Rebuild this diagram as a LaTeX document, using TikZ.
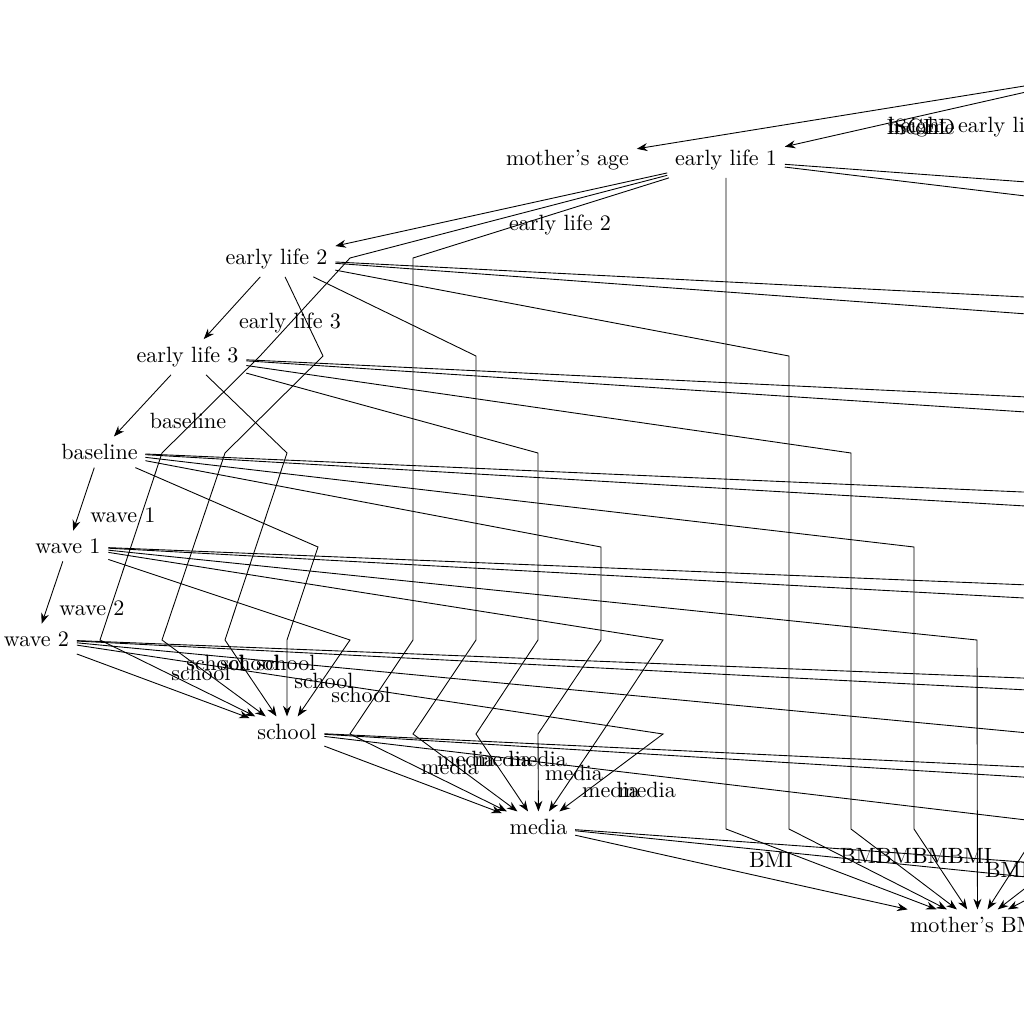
\documentclass[tikz,border=0pt]{standalone}
\usetikzlibrary{arrows.meta}

\begin{document}
\begin{tikzpicture}[
  x=0.4525pt, y=-0.4525pt,
  var/.style={inner sep=3.33pt},
  lab/.style={inner sep=0pt},
  link/.style={-{Stealth}},
]
  \useasboundingbox (0,0) rectangle (1024,1024);
  \clip (0,0) rectangle (1024,1024);

  %% variables
  \node[var](mage)   at (567.5,160) {mother's age};
  \node[var](el1)    at (726,160)   {early life 1};
  \node[var](el2)    at (276.5,259) {early life 2};
  \node[var](el3)    at (187.5,357) {early life 3};
  \node[var](base)   at (99.5,452)  {baseline};
  \node[var](w1)     at (68,546)    {wave 1};
  \node[var](w2)     at (36.5,639)  {wave 2};
  \node[var](school) at (287,732)   {school};
  \node[var](media)  at (538.5,827) {media};
  \node[var](mbmi)   at (977.5,925) {mother's BMI};

  %% ends beyond the right margin
  \coordinate (src)   at (1123,70);
  \coordinate (el1ra) at (1300,202);
  \coordinate (el1rb) at (1300,229);
  \coordinate (el2ra) at (1300,311);
  \coordinate (el2rb) at (1300,334);
  \coordinate (el3ra) at (1300,410);
  \coordinate (el3rb) at (1300,430);
  \coordinate (basra) at (1300,504);
  \coordinate (basrb) at (1300,522);
  \coordinate (w1ra)  at (1300,596);
  \coordinate (w1rb)  at (1300,613);
  \coordinate (w2ra)  at (1300,689);
  \coordinate (w2rb)  at (1300,704);
  \coordinate (schra) at (1300,780);
  \coordinate (schrb) at (1300,794);
  \coordinate (medra) at (1300,882);
  \coordinate (medrb) at (1300,905);
  \coordinate (offa)  at (1164,700);

  %% top
  \draw[link] (src) -- (mage);
  \draw[link] (src) -- (el1);

  %% early life 1
  \draw[link] (el1) -- (el2);
  \draw[link] (el1) -- (350,258) -- (260,356) -- (162,453) -- (100,640) -- (school);
  \draw[link] (el1) -- (413,258) -- (413,640) -- (350,734) -- (media);
  \draw[link] (el1) -- (726,829) -- (mbmi);
  \draw[link] (el1) -- (el1ra);
  \draw[link] (el1) -- (el1rb);

  %% early life 2
  \draw[link] (el2) -- (el3);
  \draw[link] (el2) -- (323,356) -- (225,453) -- (162,640) -- (school);
  \draw[link] (el2) -- (476,356) -- (476,640) -- (413,734) -- (media);
  \draw[link] (el2) -- (789,356) -- (789,829) -- (mbmi);
  \draw[link] (el2) -- (el2ra);
  \draw[link] (el2) -- (el2rb);

  %% early life 3
  \draw[link] (el3) -- (base);
  \draw[link] (el3) -- (287,453) -- (225,640) -- (school);
  \draw[link] (el3) -- (538,453) -- (538,640) -- (476,734) -- (media);
  \draw[link] (el3) -- (851,453) -- (851,829) -- (mbmi);
  \draw[link] (el3) -- (el3ra);
  \draw[link] (el3) -- (el3rb);

  %% baseline
  \draw[link] (base) -- (w1);
  \draw[link] (base) -- (318,547) -- (287,640) -- (school);
  \draw[link] (base) -- (601,547) -- (601,640) -- (538,734) -- (media);
  \draw[link] (base) -- (914,547) -- (914,829) -- (mbmi);
  \draw[link] (base) -- (basra);
  \draw[link] (base) -- (basrb);

  %% wave 1
  \draw[link] (w1) -- (w2);
  \draw[link] (w1) -- (350,640) -- (school);
  \draw[link] (w1) -- (663,640) -- (601,734) -- (media);
  \draw[link] (w1) -- (977,640) -- (mbmi);
  \draw[link] (w1) -- (w1ra);
  \draw[link] (w1) -- (w1rb);

  %% wave 2
  \draw[link] (w2) -- (school);
  \draw[link] (w2) -- (663,734) -- (media);
  \draw[link] (w2) -- (1039,734) -- (1039,829) -- (mbmi);
  \draw[link] (w2) -- (w2ra);
  \draw[link] (w2) -- (w2rb);

  %% school, media
  \draw[link] (school) -- (media);
  \draw[link] (school) -- (1102,829) -- (mbmi);
  \draw[link] (school) -- (schra);
  \draw[link] (school) -- (schrb);
  \draw[link] (media) -- (mbmi);
  \draw[link] (media) -- (medra);
  \draw[link] (media) -- (medrb);
  \draw[link] (offa) -- (1164,829) -- (mbmi);

  %% edge labels
  \node[lab](lisc) at (921,127)  {ISCED};
  \node[lab](lhgt) at (918,127)  {height};
  \node[lab](linc) at (921,127)  {income};
  \node[lab](lel1) at (1009,127) {early life 1};
  \node[lab](lel2) at (560,225)  {early life 2};
  \node[lab](lel3) at (290,323)  {early life 3};
  \node[lab](lbas) at (188,421)  {baseline};
  \node[lab](lw1)  at (123,515)  {wave 1};
  \node[lab](lw2)  at (92,608)   {wave 2};

  \node[lab](lsa) at (201,673) {school};
  \node[lab](lsb) at (216,663) {school};
  \node[lab](lsc) at (250,663) {school};
  \node[lab](lsd) at (286,663) {school};
  \node[lab](lse) at (324,681) {school};
  \node[lab](lsf) at (361,695) {school};

  \node[lab](lma) at (450,767) {media};
  \node[lab](lmb) at (466,759) {media};
  \node[lab](lmc) at (503,759) {media};
  \node[lab](lmd) at (538,759) {media};
  \node[lab](lme) at (574,773) {media};
  \node[lab](lmf) at (611,790) {media};
  \node[lab](lmg) at (647,790) {media};

  \node[lab](lba) at (771,860)  {BMI};
  \node[lab](lbb) at (862,856)  {BMI};
  \node[lab](lbc) at (898,856)  {BMI};
  \node[lab](lbd) at (934,856)  {BMI};
  \node[lab](lbe) at (970,856)  {BMI};
  \node[lab](lbf) at (1007,870) {BMI};

\end{tikzpicture}
\end{document}
